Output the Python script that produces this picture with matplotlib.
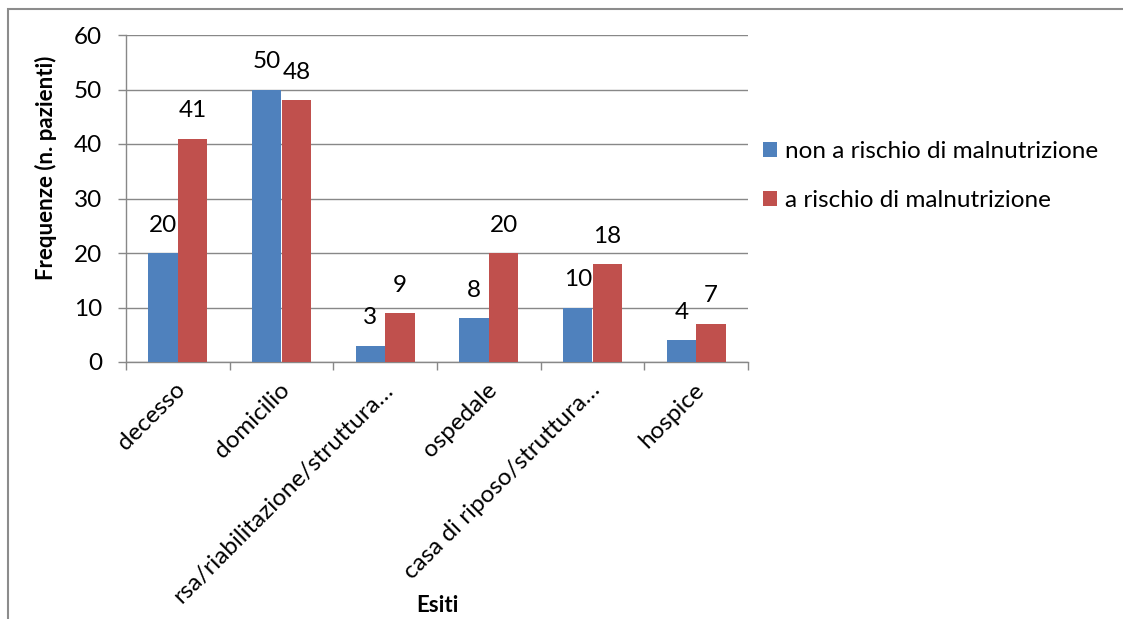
import matplotlib
matplotlib.use("Agg")
import matplotlib.pyplot as plt
import matplotlib.transforms as mtransforms
from matplotlib.patches import Rectangle
import numpy as np

plt.rcParams['font.family'] = ['Lato', 'DejaVu Sans']

categories = ["decesso", "domicilio", "rsa/riabilitazione/struttura…", "ospedale",
              "casa di riposo/struttura…", "hospice"]
series_names = ["non a rischio di malnutrizione", "a rischio di malnutrizione"]
non_rischio = [20, 50, 3, 8, 10, 4]
rischio = [41, 48, 9, 20, 18, 7]
y_ticks = [0, 10, 20, 30, 40, 50, 60]

blue = "#4F81BD"
red = "#C0504D"
grid_col = "#888888"
fs = 17.5
fs_title = 16

fig = plt.figure(figsize=(11.23, 6.19), dpi=100)
W, H = 1123, 619
ax = fig.add_axes([126 / W, 1 - 362 / H, (748 - 126) / W, (362 - 35) / H])

x = np.arange(len(categories))
bw = 1 / 3.5
b1 = ax.bar(x - bw / 2, non_rischio, bw, color=blue, label=series_names[0], zorder=3)
b2 = ax.bar(x + bw / 2, rischio, bw, color=red, label=series_names[1], zorder=3)

for bars, vals in ((b1, non_rischio), (b2, rischio)):
    for rect, v in zip(bars, vals):
        ax.annotate(str(v), (rect.get_x() + rect.get_width() / 2, v),
                    xytext=(0, 12.5), textcoords="offset points",
                    ha="center", va="bottom", fontsize=fs, color="black")

ax.set_xlim(-0.5, len(categories) - 0.5)
ax.set_ylim(0, 60)
ax.set_yticks(y_ticks)
ax.set_yticklabels([str(t) for t in y_ticks], fontsize=fs)
ax.yaxis.grid(True, color=grid_col, linewidth=1.0, zorder=0)
ax.tick_params(axis='y', length=5.8, width=1.0, color=grid_col, pad=11.5)

# category separators as tick marks
ax.set_xticks(np.arange(len(categories) + 1) - 0.5)
ax.set_xticklabels([])
ax.tick_params(axis='x', length=5.8, width=1.0, color=grid_col)

label_tr = (mtransforms.blended_transform_factory(ax.transData, ax.transAxes)
            + mtransforms.ScaledTranslation(9 / 100, -29 / 100, fig.dpi_scale_trans))
for i, c in enumerate(categories):
    ax.text(i, 0, c, transform=label_tr, rotation=45, rotation_mode="anchor",
            ha="right", va="baseline", fontsize=fs)

for s in ("top", "right"):
    ax.spines[s].set_visible(False)
for s in ("left", "bottom"):
    ax.spines[s].set_color(grid_col)
    ax.spines[s].set_linewidth(1.0)

fig.text(46 / W, 1 - 168 / H, "Frequenze (n. pazienti)", rotation=90, ha="center", va="center",
         fontsize=fs_title, fontweight="bold")
fig.text(437 / W, 1 - 606 / H, "Esiti", ha="center", va="center",
         fontsize=fs_title, fontweight="bold")

fig.legend(handles=[b1, b2], labels=series_names, loc="center left",
           bbox_to_anchor=(763 / W, 1 - 176 / H), borderaxespad=0, borderpad=0,
           frameon=False, fontsize=fs, handlelength=0.58, handleheight=0.58,
           handletextpad=0.33, labelspacing=1.15)

fig.patches.append(Rectangle((8 / W, -0.1), 1.2, 1 - 9 / H + 0.1, transform=fig.transFigure,
                             fill=False, edgecolor="#8C8C8C", linewidth=1.5))

fig.savefig("out.png", dpi=100)
